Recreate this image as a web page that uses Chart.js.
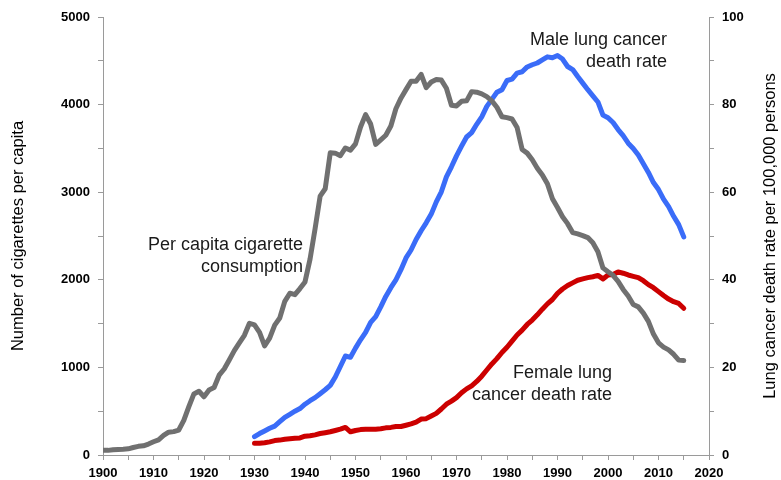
<!DOCTYPE html>
<html>
<head>
<meta charset="utf-8">
<script src="https://cdn.jsdelivr.net/npm/chart.js@4/dist/chart.umd.min.js"></script>
<style>
html,body{margin:0;padding:0;background:#fff;}
canvas{display:block;}
</style>
</head>
<body>
<canvas id="c" width="781" height="480"></canvas>
<script>
// ---- Data ----
const cigStartYear = 1900;
const cigarettesPerCapita = [
  54,53,60,64,66,70,86,99,105,125,
  151,173,223,260,267,285,395,551,697,727,
  665,742,770,911,982,1085,1191,1279,1366,1504,
  1485,1399,1245,1334,1483,1564,1754,1847,1830,1900,
  1976,2236,2585,2956,3039,3449,3446,3416,3505,3480,
  3552,3744,3886,3778,3546,3597,3650,3755,3953,4073,
  4171,4266,4266,4345,4194,4258,4287,4280,4186,3993,
  3985,4037,4043,4148,4141,4122,4091,4043,3970,3861,
  3851,3836,3739,3488,3446,3370,3274,3197,3096,2926,
  2826,2720,2641,2539,2524,2505,2482,2423,2320,2136,
  2092,2051,1982,1890,1814,1717,1691,1619,1525,1380,
  1280,1232,1200,1150,1083,1078
];
const rateStartYear = 1930;
const maleDeathRate = [
  4.2,4.9,5.5,6.1,6.6,7.6,8.6,9.3,10.0,10.6,
  11.6,12.4,13.1,14.0,14.9,15.9,17.8,20.2,22.6,22.3,
  24.4,26.3,28.0,30.3,31.6,33.8,36.2,38.2,40.0,42.3,
  45.0,46.8,49.2,51.2,53.0,55.0,57.8,60.1,63.5,65.8,
  68.3,70.5,72.6,73.6,75.5,77.2,79.6,81.2,82.8,83.4,
  85.5,85.8,87.2,87.5,88.6,89.1,89.5,90.2,90.9,90.7,
  91.2,90.4,88.7,88.0,86.4,84.9,83.4,82.0,80.6,77.6,
  77.0,75.9,74.3,72.9,71.2,70.0,68.5,66.5,64.5,62.2,
  60.6,58.4,56.7,54.5,52.6,49.8
];
const femaleDeathRate = [
  2.7,2.7,2.8,3.0,3.3,3.4,3.6,3.7,3.8,3.9,
  4.3,4.4,4.6,4.9,5.1,5.3,5.6,5.9,6.3,5.3,
  5.6,5.8,5.9,5.9,5.9,6.0,6.2,6.3,6.5,6.5,
  6.8,7.1,7.5,8.2,8.3,8.9,9.5,10.5,11.6,12.3,
  13.1,14.2,15.1,15.8,16.8,18.0,19.4,20.8,22.0,23.4,
  24.6,26.0,27.4,28.5,29.8,30.8,32.0,33.3,34.5,35.5,
  36.9,37.9,38.7,39.3,39.9,40.2,40.5,40.7,41.0,40.2,
  41.1,41.2,41.8,41.5,41.1,40.8,40.5,39.8,38.9,38.2,
  37.3,36.4,35.6,35.0,34.6,33.5
];
const xTickLabels = [1900,1910,1920,1930,1940,1950,1960,1970,1980,1990,2000,2010,2020];
const leftTickLabels = [0,1000,2000,3000,4000,5000];
const rightTickLabels = [0,20,40,60,80,100];
const leftAxisTitle = 'Number of cigarettes per capita';
const rightAxisTitle = 'Lung cancer death rate per 100,000 persons';

// annotation labels: text lines anchored at (year, value) on given axis
const annotations = [
  {lines:["Per capita cigarette","consumption"], year:1939.6, value:2400, step:-255, axis:"y"},
  {lines:["Male lung cancer","death rate"], year:2011.7, value:94.8, step:-5.0, axis:"y1"},
  {lines:["Female lung","cancer death rate"], year:2000.8, value:18.7, step:-5.0, axis:"y1"}
];

function toXY(start, arr){ return arr.map((v,i)=>({x:start+i, y:v})); }

const FAMILY = '"Liberation Sans", Arial, sans-serif';

const annotPlugin = {
  id:'annot',
  afterDatasetsDraw(chart){
    const ctx = chart.ctx, xs = chart.scales.x, ca = chart.chartArea;
    ctx.save();
    ctx.font = '18px ' + FAMILY;
    ctx.fillStyle = '#1a1a1a';
    ctx.textAlign = 'right';
    ctx.textBaseline = 'middle';
    annotations.forEach(a=>{
      const ys = chart.scales[a.axis];
      a.lines.forEach((t,i)=>{
        ctx.fillText(t, xs.getPixelForValue(a.year), ys.getPixelForValue(a.value + i*a.step));
      });
    });
    // axis titles, both reading bottom-to-top
    const cy = (ca.top + ca.bottom)/2;
    ctx.font = '16.5px ' + FAMILY;
    ctx.fillStyle = '#000';
    ctx.textAlign = 'center';
    ctx.textBaseline = 'middle';
    [[18, leftAxisTitle],[chart.width-11, rightAxisTitle]].forEach(([x,t])=>{
      ctx.save();
      ctx.translate(x, cy);
      ctx.rotate(-Math.PI/2);
      ctx.fillText(t, 0, 0);
      ctx.restore();
    });
    ctx.restore();
  }
};

const tickFont = {family:FAMILY, size:13, weight:'bold'};
const axisGrey = '#9a9a9a';

new Chart(document.getElementById('c'), {
  type:'line',
  data:{
    datasets:[
      {label:'Per capita cigarette consumption', data:toXY(cigStartYear,cigarettesPerCapita), yAxisID:'y',
       borderColor:'#707070', borderWidth:5, pointRadius:0, tension:0, fill:false, borderJoinStyle:'round', borderCapStyle:'round'},
      {label:'Male lung cancer death rate', data:toXY(rateStartYear,maleDeathRate), yAxisID:'y1',
       borderColor:'#3a6cf8', borderWidth:5, pointRadius:0, tension:0, fill:false, borderJoinStyle:'round', borderCapStyle:'round'},
      {label:'Female lung cancer death rate', data:toXY(rateStartYear,femaleDeathRate), yAxisID:'y1',
       borderColor:'#cc0000', borderWidth:5, pointRadius:0, tension:0, fill:false, borderJoinStyle:'round', borderCapStyle:'round'}
    ]
  },
  options:{
    responsive:false, animation:false, devicePixelRatio:1,
    layout:{padding:{top:17,left:0,right:0,bottom:0}},
    plugins:{legend:{display:false}, tooltip:{enabled:false}},
    scales:{
      x:{type:'linear', min:1900, max:2020,
         ticks:{stepSize:5, autoSkip:false, maxRotation:0, color:'#000', font:tickFont, padding:6,
                callback:v=> xTickLabels.includes(v) ? String(v) : ''},
         grid:{display:true, drawOnChartArea:false, drawTicks:true, tickLength:5, color:axisGrey},
         border:{display:true, color:axisGrey, width:1},
         afterFit:s=>{s.height=25;}
      },
      y:{type:'linear', position:'left', min:0, max:5000,
         ticks:{stepSize:500, autoSkip:false, color:'#000', font:tickFont, padding:8,
                callback:v=> leftTickLabels.includes(v) ? String(v) : ''},
         grid:{display:true, drawOnChartArea:false, drawTicks:true, tickLength:5, color:axisGrey},
         border:{display:true, color:axisGrey, width:1},
         afterFit:s=>{s.width=103;}
      },
      y1:{type:'linear', position:'right', min:0, max:100,
         ticks:{stepSize:10, autoSkip:false, color:'#000', font:tickFont, padding:8,
                callback:v=> rightTickLabels.includes(v) ? String(v) : ''},
         grid:{display:true, drawOnChartArea:false, drawTicks:true, tickLength:5, color:axisGrey},
         border:{display:true, color:axisGrey, width:1},
         afterFit:s=>{s.width=72;}
      }
    }
  },
  plugins:[annotPlugin]
});
</script>
</body>
</html>
